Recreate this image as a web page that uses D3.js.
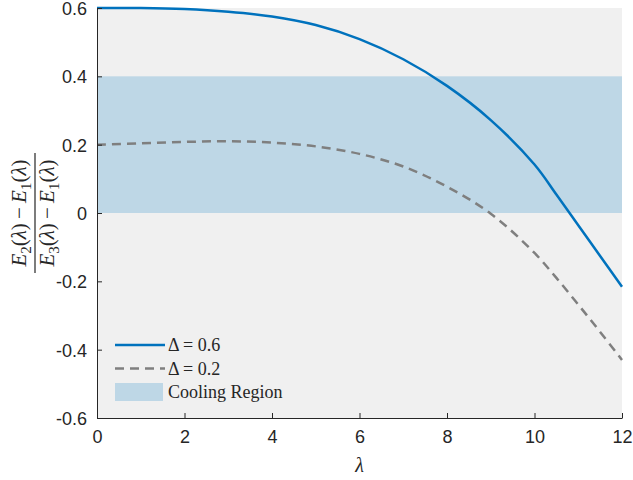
<!DOCTYPE html>
<html>
<head>
<meta charset="utf-8">
<script src="https://cdn.jsdelivr.net/npm/d3@7"></script>
<style>
  body { margin: 0; background: #fff; }
  .tick text { font-family: "Liberation Sans", Arial, sans-serif; font-size: 18px; fill: #262626; }
  .serif { font-family: "Liberation Serif", "DejaVu Serif", serif; fill: #262626; }
</style>
</head>
<body>
<div id="chart"></div>
<script>
const lambdas = [0, 1, 2, 3, 4, 5, 6, 7, 8, 9, 10, 10.5, 11, 11.5, 12];
const delta06 = [0.600, 0.600, 0.597, 0.589, 0.575, 0.550, 0.509, 0.450, 0.372, 0.272, 0.142, 0.054, -0.036, -0.126, -0.216];
const delta02 = [0.200, 0.204, 0.208, 0.210, 0.206, 0.195, 0.173, 0.136, 0.077, -0.002, -0.117, -0.190, -0.268, -0.348, -0.430];
const coolingRegion = [0, 0.4];
const xTicks = [0, 2, 4, 6, 8, 10, 12];
const yTicks = [-0.6, -0.4, -0.2, 0, 0.2, 0.4, 0.6];
const legendLabels = ["\u0394 = 0.6", "\u0394 = 0.2", "Cooling Region"];

const width = 633;
const height = 480;
const margin = {top: 8, right: 11, bottom: 62, left: 97};

const svg = d3.select("#chart")
    .append("svg")
        .attr("width", width)
        .attr("height", height);

const x = d3.scaleLinear().domain([0, 12]).range([margin.left, width - margin.right]);
const y = d3.scaleLinear().domain([-0.6, 0.6]).range([height - margin.bottom, margin.top]);

// background
svg.append("rect")
    .attr("x", x(0)).attr("y", y(0.6))
    .attr("width", x(12) - x(0)).attr("height", y(-0.6) - y(0.6))
    .attr("fill", "#f0f0f0");

// cooling band
svg.append("rect")
    .attr("x", x(0)).attr("y", y(coolingRegion[1]))
    .attr("width", x(12) - x(0)).attr("height", y(coolingRegion[0]) - y(coolingRegion[1]))
    .attr("fill", "#bed7e6");

const line = d3.line()
    .x((d, i) => x(lambdas[i]))
    .y(d => y(d))
    .curve(d3.curveCatmullRom.alpha(0.5));

svg.append("path")
    .datum(delta02)
    .attr("d", line)
    .attr("fill", "none")
    .attr("stroke", "#7f7f7f")
    .attr("stroke-width", 2.5)
    .attr("stroke-dasharray", "9,6");

svg.append("path")
    .datum(delta06)
    .attr("d", line)
    .attr("fill", "none")
    .attr("stroke", "#0072bd")
    .attr("stroke-width", 2.5);

// axes
const xAxis = svg.append("g")
    .attr("transform", `translate(0,${y(-0.6)})`)
    .call(d3.axisBottom(x).tickValues(xTicks).tickFormat(d3.format("d")).tickSizeInner(-5).tickSizeOuter(0).tickPadding(12));
const yAxis = svg.append("g")
    .attr("transform", `translate(${x(0)},0)`)
    .call(d3.axisLeft(y).tickValues(yTicks).tickFormat(d => d === 0 ? "0" : d.toFixed(1)).tickSizeInner(-5).tickSizeOuter(0).tickPadding(10));
[xAxis, yAxis].forEach(a => {
    a.select(".domain").attr("stroke", "#262626").attr("stroke-width", 1);
    a.selectAll(".tick line").attr("stroke", "#262626");
});
yAxis.selectAll(".tick text").attr("dy", "0.36em");

// x label
svg.append("text")
    .attr("class", "serif")
    .attr("x", x(6)).attr("y", 472)
    .attr("text-anchor", "middle")
    .attr("font-size", 20)
    .attr("font-style", "italic")
    .text("\u03bb");

// y label as fraction
const yl = svg.append("g")
    .attr("transform", `translate(35,${y(0)}) rotate(-90)`);
function term(g, sub, yy) {
    const t = g.append("text")
        .attr("class", "serif")
        .attr("y", yy)
        .attr("text-anchor", "middle")
        .attr("font-size", 21);
    const parts = [["E", "italic", 0, 21], [sub, "normal", 5, 15], ["(", "normal", -5, 21], ["\u03bb", "italic", 0, 21], [")\u2009\u2212\u2009", "normal", 0, 21],
                   ["E", "italic", 0, 21], ["1", "normal", 5, 15], ["(", "normal", -5, 21], ["\u03bb", "italic", 0, 21], [")", "normal", 0, 21]];
    parts.forEach(p => {
        t.append("tspan")
            .attr("font-style", p[1])
            .attr("font-size", p[3])
            .attr("dy", p[2])
            .text(p[0]);
    });
}
term(yl, "2", -9);
term(yl, "3", 19);
yl.append("line")
    .attr("x1", -60).attr("x2", 60)
    .attr("y1", 0).attr("y2", 0)
    .attr("stroke", "#262626").attr("stroke-width", 1.2);

// legend
const lg = svg.append("g").attr("transform", "translate(115,345)");
const rowH = 23.5;
lg.append("line").attr("x1", 0).attr("x2", 50).attr("y1", 0).attr("y2", 0)
    .attr("stroke", "#0072bd").attr("stroke-width", 2.5);
lg.append("line").attr("x1", 0).attr("x2", 50).attr("y1", rowH).attr("y2", rowH)
    .attr("stroke", "#7f7f7f").attr("stroke-width", 2.5).attr("stroke-dasharray", "9,6");
lg.append("rect").attr("x", 0).attr("y", 2 * rowH - 9).attr("width", 48).attr("height", 18)
    .attr("fill", "#bed7e6");
lg.selectAll("text.leg")
    .data(legendLabels)
    .enter().append("text")
        .attr("class", "serif leg")
        .attr("x", 53)
        .attr("y", (d, i) => i * rowH + 6)
        .attr("font-size", 18)
        .text(d => d);
</script>
</body>
</html>
